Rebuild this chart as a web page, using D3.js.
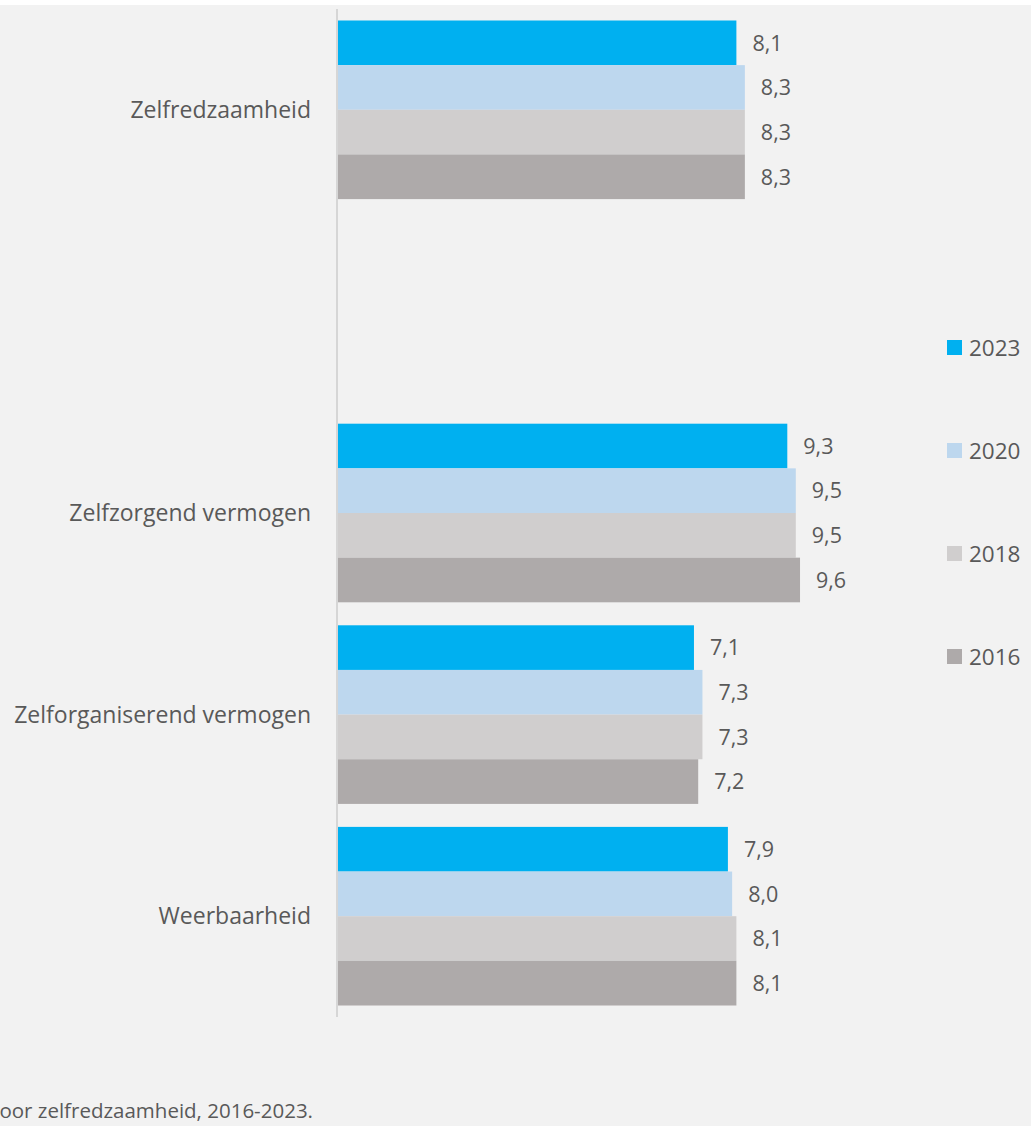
<!DOCTYPE html>
<html>
<head>
<meta charset="utf-8">
<script src="https://cdn.jsdelivr.net/npm/d3@7"></script>
<style>
  html, body { margin: 0; padding: 0; background: #ffffff; }
  svg { display: block; }
  text { font-family: "Open Sans", Lato, sans-serif; fill: #595959; }
</style>
</head>
<body>
<svg id="chart" width="1031" height="1126"></svg>
<script>
// ---- data ----
const categories = ["Zelfredzaamheid", "", "Zelfzorgend vermogen", "Zelforganiserend vermogen", "Weerbaarheid"];
const seriesNames = ["2023", "2020", "2018", "2016"];
const values2023 = [8.1, null, 9.3, 7.1, 7.9];
const values2020 = [8.3, null, 9.5, 7.3, 8.0];
const values2018 = [8.3, null, 9.5, 7.3, 8.1];
const values2016 = [8.3, null, 9.6, 7.2, 8.1];
const seriesColors = ["#00b0f0", "#bdd7ee", "#d0cece", "#aeaaaa"];
const footnote = "voor zelfredzaamheid, 2016-2023.";

const seriesValues = [values2023, values2020, values2018, values2016];

const svg = d3.select("#chart");
const W = 1031, H = 1126;

svg.append("rect").attr("x", 0).attr("y", 5).attr("width", W).attr("height", H - 5).attr("fill", "#f2f2f2");

const plotTop = 9, plotBottom = 1017, axisX = 338;

const y = d3.scaleBand().domain(categories.map((c, i) => i)).range([plotTop, plotBottom])
  .paddingInner(0.114).paddingOuter(0.057);
const ySub = d3.scaleBand().domain(seriesNames).range([0, y.bandwidth()]).padding(0);
const x = d3.scaleLinear().domain([-1.29, 10]).range([axisX, 817]);

const fmt = v => d3.format(".1f")(v).replace(".", ",");

// bars
const groups = svg.append("g").selectAll("g.cat")
  .data(categories.map((c, i) => ({ c, i })))
  .join("g").attr("class", "cat")
  .attr("transform", d => `translate(0,${y(d.i)})`);

groups.each(function (d) {
  const g = d3.select(this);
  const rows = seriesNames.map((s, k) => ({ s, k, v: seriesValues[k][d.i] })).filter(r => r.v != null);
  g.selectAll("rect").data(rows).join("rect")
    .attr("x", x.range()[0])
    .attr("y", r => ySub(r.s))
    .attr("width", r => x(r.v) - x.range()[0])
    .attr("height", ySub.bandwidth())
    .attr("fill", r => seriesColors[r.k]);
  g.selectAll("text.val").data(rows).join("text").attr("class", "val")
    .attr("x", r => x(r.v) + 16)
    .attr("y", r => ySub(r.s) + ySub.bandwidth() / 2)
    .attr("dy", "0.36em")
    .attr("font-size", 21.5)
    .text(r => fmt(r.v));
});

// vertical axis line
svg.append("line").attr("x1", axisX - 1).attr("x2", axisX - 1)
  .attr("y1", plotTop).attr("y2", plotBottom)
  .attr("stroke", "#d6d6d6").attr("stroke-width", 2);

// category labels
svg.append("g").selectAll("text").data(categories.map((c, i) => ({ c, i })).filter(d => d.c))
  .join("text")
  .attr("x", 311)
  .attr("y", d => y(d.i) + y.bandwidth() / 2)
  .attr("dy", "0.36em")
  .attr("text-anchor", "end")
  .attr("font-size", 23)
  .text(d => d.c);

// legend
const leg = svg.append("g").selectAll("g").data(seriesNames).join("g")
  .attr("transform", (d, i) => `translate(947,${347.5 + i * 103})`);
leg.append("rect").attr("x", 0).attr("y", -7.5).attr("width", 15).attr("height", 15)
  .attr("fill", (d, i) => seriesColors[i]);
leg.append("text").attr("x", 22).attr("y", 0).attr("dy", "0.36em").attr("font-size", 22.5).text(d => d);

// footnote (cut off at the left edge, as in the original)
svg.append("text").attr("x", 313).attr("y", 1118).attr("text-anchor", "end")
  .attr("font-size", 20.5).text(footnote);
</script>
</body>
</html>
